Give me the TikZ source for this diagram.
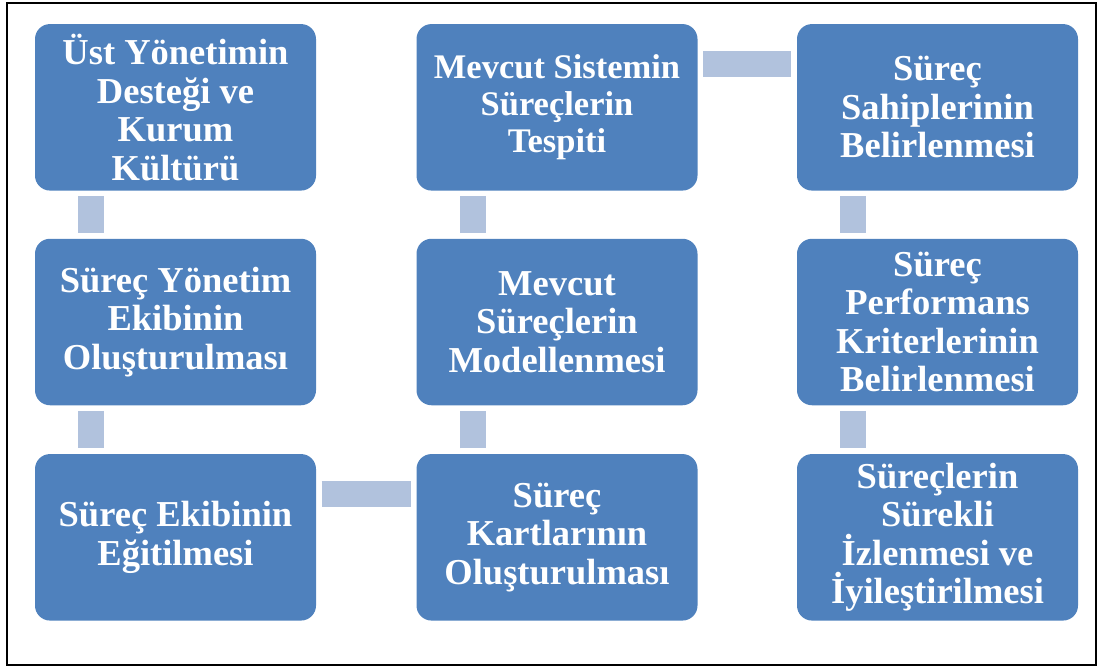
\documentclass[tikz,border=0pt]{standalone}
\usepackage{fontspec}
\setmainfont{Liberation Serif}
\definecolor{stageblue}{HTML}{4F81BD}
\definecolor{linkblue}{HTML}{B1C2DD}
\begin{document}
\begin{tikzpicture}[x=1pt,y=-1pt,
  stage/.style={fill=stageblue, rounded corners=15pt, minimum width=281pt,
    minimum height=166.5pt, inner sep=0pt, text=white, align=center,
    font=\bfseries\fontsize{36.5}{38.5}\selectfont},
  link/.style={draw=linkblue, line width=26pt, line cap=butt,
    shorten <=5.5pt, shorten >=5.5pt}]
  \useasboundingbox (0,0) rectangle (1098,667);
  \draw[line width=2pt] (7,2.5) rectangle (1096,665);

  % first column
  \node[stage] (a1) at (175.5,107.3) {Üst Yönetimin\\Desteği ve\\Kurum\\Kültürü};
  \node[stage] (a2) at (175.5,322) {Süreç Yönetim\\Ekibinin\\Oluşturulması};
  \node[stage] (a3) at (175.5,537.3) {Süreç Ekibinin\\Eğitilmesi};
  % second column
  \node[stage, font=\bfseries\fontsize{34.5}{37}\selectfont] (b1) at (557,107.3) {Mevcut Sistemin\\Süreçlerin\\Tespiti};
  \node[stage] (b2) at (557,322) {Mevcut\\Süreçlerin\\Modellenmesi};
  \node[stage] (b3) at (557,537.3) {Süreç\\Kartlarının\\Oluşturulması};
  % third column
  \node[stage] (c1) at (937.5,107.3) {Süreç\\Sahiplerinin\\Belirlenmesi};
  \node[stage] (c2) at (937.5,322) {Süreç\\Performans\\Kriterlerinin\\Belirlenmesi};
  \node[stage] (c3) at (937.5,537.3) {Süreçlerin\\Sürekli\\İzlenmesi ve\\İyileştirilmesi};

  % connecting bars
  \draw[link] ([xshift=-84.5pt]a1.south) -- ([xshift=-84.5pt]a2.north);
  \draw[link] ([xshift=-84.5pt]a2.south) -- ([xshift=-84.5pt]a3.north);
  \draw[link] ([yshift=43pt]a3.east) -- ([yshift=43pt]b3.west);
  \draw[link] ([xshift=-84.5pt]b3.north) -- ([xshift=-84.5pt]b2.south);
  \draw[link] ([xshift=-84.5pt]b2.north) -- ([xshift=-84.5pt]b1.south);
  \draw[link] ([yshift=43pt]b1.east) -- ([yshift=43pt]c1.west);
  \draw[link] ([xshift=-84.5pt]c1.south) -- ([xshift=-84.5pt]c2.north);
  \draw[link] ([xshift=-84.5pt]c2.south) -- ([xshift=-84.5pt]c3.north);
\end{tikzpicture}
\end{document}
